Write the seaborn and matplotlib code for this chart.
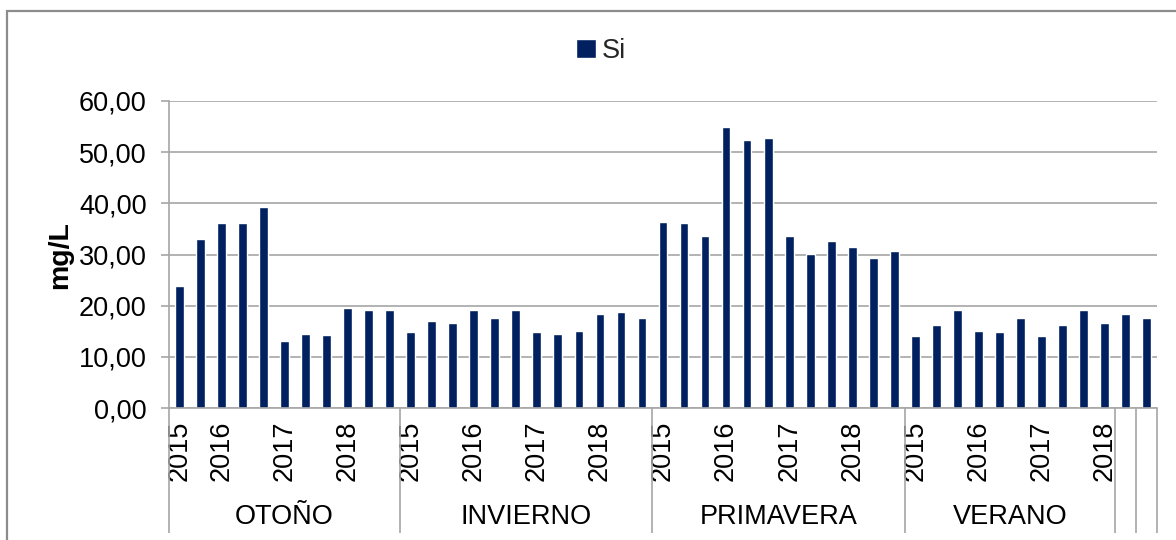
import numpy as np
import pandas as pd
import matplotlib
matplotlib.use("Agg")
import matplotlib.pyplot as plt
import matplotlib.transforms as mtransforms
from matplotlib.patches import Rectangle
import seaborn as sns

# ---------------- data ----------------
seasons = ["OTOÑO", "INVIERNO", "PRIMAVERA", "VERANO", "", ""]

otono = [23.8, 33.1, 36.1, 36.1, 39.3, 13.1, 14.5, 14.3, 19.6, 19.1, 19.1]
invierno = [14.8, 17.0, 16.6, 19.1, 17.6, 19.1, 14.8, 14.5, 15.0, 18.3, 18.8, 17.6]
primavera = [36.4, 36.1, 33.6, 55.0, 52.4, 52.7, 33.7, 30.1, 32.6, 31.4, 29.4, 30.6]
verano = [14.0, 16.3, 19.1, 15.1, 14.8, 17.6, 14.0, 16.3, 19.1, 16.6]
extra1 = [18.3]
extra2 = [17.6]

years_otono = ["2015", "", "2016", "", "", "2017", "", "", "2018", "", ""]
years_invierno = ["2015", "", "", "2016", "", "", "2017", "", "", "2018", "", ""]
years_primavera = ["2015", "", "", "2016", "", "", "2017", "", "", "2018", "", ""]
years_verano = ["2015", "", "", "2016", "", "", "2017", "", "", "2018"]
years_extra1 = [""]
years_extra2 = [""]

series_name = "Si"
y_label = "mg/L"
y_ticks = [0, 10, 20, 30, 40, 50, 60]

groups = [otono, invierno, primavera, verano, extra1, extra2]
year_groups = [years_otono, years_invierno, years_primavera, years_verano,
               years_extra1, years_extra2]

values = [v for g in groups for v in g]
year_labels = [y for g in year_groups for y in g]
cats = [f"c{i}" for i in range(len(values))]
df = pd.DataFrame({"cat": cats, "value": values})

# ---------------- style ----------------
sns.set_theme(style="white")
plt.rcParams["font.family"] = ["Liberation Sans", "DejaVu Sans"]

W, H = 1176, 540
fig = plt.figure(figsize=(W / 100, H / 100), dpi=100)
ax = fig.add_axes([169 / W, 1 - 408 / H, (1157 - 169) / W, (408 - 101) / H])

bar_color = "#002060"
grid_color = "#A6A6A6"
fs = 19.5

sns.barplot(data=df, x="cat", y="value", color=bar_color, width=0.42,
            saturation=1, label=series_name, ax=ax, order=cats)

ax.set_xlim(-0.5, len(values) - 0.5)
ax.set_ylim(0, 60)
ax.set_yticks(y_ticks)
ax.set_yticklabels([f"{t:.2f}".replace(".", ",") for t in y_ticks],
                   fontsize=fs, color="#000000")
ax.yaxis.grid(True, color=grid_color, linewidth=1.2)
ax.set_axisbelow(True)
ax.tick_params(axis="y", length=6, width=1.2, color=grid_color, pad=10, left=True)

ax.set_xticks(range(len(values)))
ax.set_xticklabels(year_labels, rotation=90, fontsize=fs, color="#000000")
ax.tick_params(axis="x", length=0, pad=9)
ax.set_xlabel("")
ax.set_ylabel("")

for s in ["top", "right"]:
    ax.spines[s].set_visible(False)
ax.spines["left"].set_color(grid_color)
ax.spines["left"].set_linewidth(1.2)
ax.spines["bottom"].set_color(grid_color)
ax.spines["bottom"].set_linewidth(1.2)

# hierarchical category axis: separators and season labels
trans = mtransforms.blended_transform_factory(ax.transData, ax.transAxes)
sep_bottom = 1 - (533 - 101) / (408 - 101)
season_y = 1 - (517 - 101) / (408 - 101)
start = 0
bounds = [-0.5]
for name, g in zip(seasons, groups):
    n = len(g)
    center = start + (n - 1) / 2
    if name:
        ax.text(center, season_y, name, transform=trans, ha="center",
                va="center", fontsize=fs, color="#000000")
    start += n
    bounds.append(start - 0.5)
for b in bounds:
    ax.plot([b, b], [0, sep_bottom], transform=trans, color=grid_color,
            linewidth=1.2, clip_on=False, solid_capstyle="butt")

# y label
fig.text(60 / W, 1 - 255 / H, y_label, rotation=90, ha="center", va="center",
         fontsize=20.5, fontweight="bold", color="#000000")

# legend
handles, labels = ax.get_legend_handles_labels()
if ax.get_legend() is not None:
    ax.get_legend().remove()
fig.legend(handles[:1], labels[:1], loc="center", bbox_to_anchor=(601 / W, 1 - 51 / H),
           frameon=False, fontsize=fs, handlelength=0.75, handleheight=0.75,
           handletextpad=0.2, borderpad=0)

# outer frame (left and top edges visible)
fig.patches.append(Rectangle((7 / W, -0.2), 1.5, 1.2 - 11 / H, transform=fig.transFigure,
                             fill=False, edgecolor="#8C8C8C", linewidth=1.6))

fig.savefig("out.png", dpi=100)
